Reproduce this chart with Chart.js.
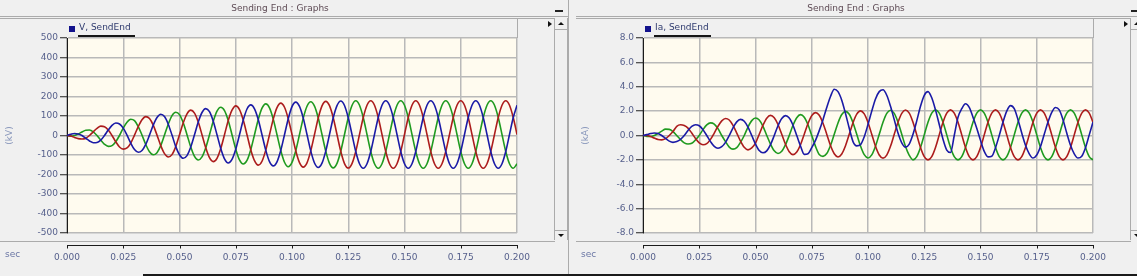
<!DOCTYPE html>
<html><head><meta charset="utf-8">
<script src="https://cdn.jsdelivr.net/npm/chart.js@4.4.1/dist/chart.umd.min.js"></script>
<style>
html,body{margin:0;padding:0;}
body{width:1137px;height:276px;overflow:hidden;background:#f0f0f0;position:relative;font-family:"DejaVu Sans",sans-serif;}
.panel{position:absolute;top:0;width:568px;height:276px;}
.a{position:absolute;}
.ln{position:absolute;background:#ababab;}
.title{left:0;top:3px;width:560px;text-align:center;font-size:9px;line-height:11px;color:#5e4b55;}
.lgsq{left:69px;top:26px;width:6px;height:6px;background:#12128c;}
.lgtx{left:79px;top:22px;font-size:9px;line-height:11px;color:#2e3a6e;white-space:nowrap;}
.lgul{left:78px;top:35px;width:57px;height:2px;background:#161616;}
.sec{left:5px;top:249px;font-size:9px;line-height:11px;color:#6a76a4;}
.tri-r{left:548px;top:21px;width:0;height:0;border-left:4px solid #111;border-top:3px solid transparent;border-bottom:3px solid transparent;}
.sb{left:554px;top:18px;width:12px;height:222px;border-left:1px solid #ababab;border-right:1px solid #ababab;background:#f0f0f0;}
.tri-u{left:558px;top:22px;width:0;height:0;border-bottom:3px solid #111;border-left:3px solid transparent;border-right:3px solid transparent;}
.tri-d{left:558px;top:234px;width:0;height:0;border-top:3px solid #111;border-left:3px solid transparent;border-right:3px solid transparent;}
canvas{position:absolute;left:0;top:0;}
</style></head>
<body>
<div class="panel" id="p1"></div>
<div class="panel" id="p2" style="left:576px"></div>
<div class="ln" style="left:568px;top:0;width:1px;height:276px;"></div>
<div class="a" style="left:143px;top:274px;width:994px;height:2px;background:#1a1a1a;"></div>
<script>
// ---- data (sampled every 1/600 s, 0 .. 0.2 s) ----
const sampleStep = 1 / 600;
const timeTicks = [0, 0.025, 0.05, 0.075, 0.1, 0.125, 0.15, 0.175, 0.2];
const voltTicks = [-500, -400, -300, -200, -100, 0, 100, 200, 300, 400, 500];
const ampTicks = [-8, -6, -4, -2, 0, 2, 4, 6, 8];

const vBlue = [
 0,6,10,8,0,-14,-28,-37,-36,-24,0,28,
 52,64,59,38,2,-39,-72,-86,-77,-46,2,53,
 92,109,97,58,2,-57,-99,-117,-103,-59,4,69,
 118,138,122,73,4,-67,-120,-141,-122,-70,4,79,
 136,157,137,82,4,-75,-134,-156,-135,-77,4,86,
 148,171,149,89,5,-79,-141,-164,-142,-80,5,91,
 153,177,154,91,5,-82,-145,-168,-145,-82,5,92,
 155,178,155,92,5,-82,-145,-168,-145,-82,5,92,
 155,178,155,92,5,-82,-145,-168,-145,-82,5,92,
 155,178,155,92,5,-82,-145,-168,-145,-82,5,92,
 155];
const vRed = [
 0,-3,-10,-16,-18,-14,0,19,36,48,45,28,
 0,-32,-59,-70,-64,-39,2,46,81,97,87,53,
 2,-52,-93,-110,-98,-57,4,65,111,130,115,69,
 4,-63,-114,-134,-117,-67,4,77,130,152,133,79,
 4,-73,-129,-152,-132,-75,4,84,143,166,145,86,
 5,-78,-139,-162,-140,-79,5,90,152,175,153,91,
 5,-81,-144,-167,-144,-82,5,92,155,178,155,92,
 5,-82,-145,-168,-145,-82,5,92,155,178,155,92,
 5,-82,-145,-168,-145,-82,5,92,155,178,155,92,
 5,-82,-145,-168,-145,-82,5,92,155,178,155,92,
 5];
const vGreen = [
 0,-3,0,8,18,27,28,19,0,-24,-45,-56,
 -52,-32,0,38,68,83,76,46,2,-46,-83,-99,
 -88,-52,2,58,102,119,107,65,4,-59,-107,-126,
 -110,-63,4,73,125,145,128,77,4,-70,-125,-146,
 -128,-73,4,82,140,162,142,84,4,-77,-137,-160,
 -138,-78,5,89,150,173,151,90,5,-80,-143,-166,
 -143,-81,5,91,154,178,155,92,5,-82,-145,-168,
 -145,-82,5,92,155,178,155,92,5,-82,-145,-168,
 -145,-82,5,92,155,178,155,92,5,-82,-145,-168,
 -145,-82,5,92,155,178,155,92,5,-82,-145,-168,
 -145];

const iBlue = [
 0,0.07,0.16,0.21,0.17,0,-0.24,-0.46,-0.56,-0.50,-0.32,0,
 0.41,0.74,0.88,0.80,0.48,0,-0.50,-0.90,-1.04,-0.92,-0.56,0,
 0.63,1.12,1.32,1.17,0.69,0,-0.70,-1.23,-1.42,-1.26,-0.75,0,
 0.80,1.39,1.63,1.43,0.84,0,-0.86,-1.55,-1.50,-1.0,-0.4,0.4,
 1.3,2.3,3.2,3.8,3.6,2.9,1.8,0.6,-0.5,-0.85,-0.75,-0.1,
 0.9,2.0,3.0,3.6,3.75,3.3,2.4,1.3,0.2,-0.6,-0.95,-0.7,
 0.1,1.2,2.4,3.3,3.6,3.1,2.1,0.9,-0.3,-1.2,-1.4,0.0,
 1.5,2.2,2.6,2.3,1.5,0.6,-0.4,-1.3,-1.75,-1.7,-1.0,0.0,
 1.1,2.0,2.45,2.2,1.3,0.2,-0.8,-1.5,-1.85,-1.6,-0.9,0.1,
 1.1,1.9,2.3,2.1,1.3,0.2,-0.8,-1.5,-1.85,-1.7,-1.0,0.05,
 1.1];
const iRed = [
 0,0,-0.08,-0.21,-0.33,-0.36,-0.26,0,0.32,0.75,0.88,0.82,
 0.61,0.2,-0.24,-0.60,-0.76,-0.67,-0.32,0.2,0.76,1.2,1.40,1.27,
 0.83,0.2,-0.46,-0.97,-1.18,-1.02,-0.62,0.1,0.85,1.42,1.65,1.46,
 0.90,0.1,-0.72,-1.33,-1.57,-1.36,-0.76,0.1,0.98,1.63,1.88,1.66,
 1.01,0.1,-0.82,-1.50,-1.76,-1.52,-0.84,0.1,1.05,1.75,2.02,1.77,
 1.07,0.1,-0.88,-1.60,-1.86,-1.61,-0.89,0.1,1.09,1.82,2.09,1.83,
 1.08,0.05,-0.98,-1.73,-2.0,-1.73,-0.98,0.05,1.08,1.83,2.1,1.83,
 1.08,0.05,-0.98,-1.73,-2.0,-1.73,-0.98,0.05,1.08,1.83,2.1,1.83,
 1.08,0.05,-0.98,-1.73,-2.0,-1.73,-0.98,0.05,1.08,1.83,2.1,1.83,
 1.08,0.05,-0.98,-1.73,-2.0,-1.73,-0.98,0.05,1.08,1.83,2.1,1.83,
 1.08];
const iGreen = [
 0,-0.07,-0.08,0,0.17,0.36,0.52,0.50,0.32,0,-0.33,-0.60,
 -0.70,-0.64,-0.36,0,0.48,0.87,1.04,0.94,0.56,0,-0.50,-0.95,
 -1.12,-1.00,-0.56,0,0.69,1.22,1.44,1.27,0.75,0,-0.70,-1.26,
 -1.48,-1.30,-0.75,0,0.84,1.46,1.71,1.50,0.88,0,-0.89,-1.56,
 -1.71,-1.48,-0.82,0.1,1.03,1.72,1.98,1.74,1.05,0.1,-0.86,-1.57,
 -1.84,-1.59,-0.88,0.1,1.08,1.81,2.07,1.81,1.09,0.1,-0.9,-1.63,
 -2.0,-1.73,-0.98,0.05,1.08,1.83,2.1,1.83,1.08,0.05,-0.98,-1.73,
 -2.0,-1.73,-0.98,0.05,1.08,1.83,2.1,1.83,1.08,0.05,-0.98,-1.73,
 -2.0,-1.73,-0.98,0.05,1.08,1.83,2.1,1.83,1.08,0.05,-0.98,-1.73,
 -2.0,-1.73,-0.98,0.05,1.08,1.83,2.1,1.83,1.08,0.05,-0.98,-1.73,
 -2.0];

// ---- drawing ----
const COL_BLUE = '#1a1aa6', COL_RED = '#ac1c1c', COL_GREEN = '#1f9a1f';
const FONT = { family: 'DejaVu Sans', size: 9 };
const TICK_COLOR = '#56608c';
const GRID_COLOR = '#b9b9b9';

function toXY(arr) { return arr.map((v, i) => ({ x: i * sampleStep, y: v })); }

const chromePlugin = {
  id: 'chrome',
  beforeDraw(chart) {
    const { ctx, chartArea: a } = chart;
    ctx.save();
    ctx.fillStyle = '#fffbef';
    ctx.fillRect(a.left, a.top, a.right - a.left, a.bottom - a.top);
    ctx.restore();
  },
  afterDraw(chart) {
    const x = chart.scales.x, ctx = chart.ctx, y0 = 245.5;
    ctx.save();
    ctx.strokeStyle = '#1a1a1a';
    ctx.lineWidth = 1;
    ctx.beginPath();
    ctx.moveTo(x.left, y0); ctx.lineTo(x.right + 1, y0);
    x.ticks.forEach(t => {
      const p = Math.round(x.getPixelForValue(t.value)) + 0.5;
      ctx.moveTo(p, y0); ctx.lineTo(p, y0 + 3);
    });
    ctx.stroke();
    ctx.restore();
  }
};

function buildPanel(host, legendText, unit, series, yTicks, fmt) {
  host.innerHTML =
    '<canvas width="568" height="276"></canvas>' +
    '<div class="ln" style="left:0;top:16px;width:568px;height:1px"></div>' +
    '<div class="a title">Sending End : Graphs</div>' +
    '<div class="a" style="left:555px;top:10px;width:8px;height:2px;background:#222"></div>' +
    '<div class="ln" style="left:0;top:18px;width:554px;height:1px"></div>' +
    '<div class="ln" style="left:517px;top:18px;width:1px;height:20px"></div>' +
    '<div class="a lgsq"></div><div class="a lgtx">' + legendText + '</div><div class="a lgul"></div>' +
    '<div class="a tri-r"></div>' +
    '<div class="a sb"></div>' +
    '<div class="ln" style="left:555px;top:29px;width:12px;height:1px"></div>' +
    '<div class="ln" style="left:555px;top:230px;width:12px;height:1px"></div>' +
    '<div class="a tri-u"></div><div class="a tri-d"></div>' +
    '<div class="ln" style="left:0;top:241px;width:555px;height:1px"></div>' +
    '<div class="a sec">sec</div>';
  const canvas = host.querySelector('canvas');
  new Chart(canvas, {
    type: 'line',
    data: {
      datasets: [
        { data: toXY(series[0]), borderColor: COL_BLUE },
        { data: toXY(series[1]), borderColor: COL_RED },
        { data: toXY(series[2]), borderColor: COL_GREEN }
      ]
    },
    options: {
      responsive: false, animation: false, devicePixelRatio: 1,
      layout: { padding: { left: 0, top: 38, right: 51, bottom: 0 } },
      elements: {
        point: { radius: 0 },
        line: { borderWidth: 1.6, cubicInterpolationMode: 'monotone', fill: false }
      },
      plugins: { legend: { display: false }, tooltip: { enabled: false } },
      scales: {
        x: {
          type: 'linear', min: 0, max: 0.2,
          afterBuildTicks: s => { s.ticks = timeTicks.map(v => ({ value: v })); },
          afterFit: s => { s.height = 43; },
          ticks: { font: FONT, color: TICK_COLOR, padding: 19, maxRotation: 0, callback: v => v.toFixed(3) },
          grid: { color: GRID_COLOR, lineWidth: 1.5, drawTicks: false },
          border: { display: false }
        },
        y: {
          min: yTicks[0], max: yTicks[yTicks.length - 1],
          afterBuildTicks: s => { s.ticks = yTicks.map(v => ({ value: v })); },
          afterFit: s => { s.width = 67; },
          ticks: { font: FONT, color: TICK_COLOR, padding: 2, callback: fmt },
          grid: { color: GRID_COLOR, lineWidth: 1.5, tickLength: 7, tickColor: '#222', tickWidth: 1 },
          border: { display: true, color: '#1a1a1a', width: 1 },
          title: { display: true, text: unit, font: FONT, color: '#8a98bc', padding: { top: 4, bottom: 0 } }
        }
      }
    },
    plugins: [chromePlugin]
  });
}

buildPanel(document.getElementById('p1'), 'V, SendEnd', '(kV)', [vBlue, vRed, vGreen], voltTicks, v => String(v));
buildPanel(document.getElementById('p2'), 'Ia, SendEnd', '(kA)', [iBlue, iRed, iGreen], ampTicks, v => v.toFixed(1));
</script>
</body></html>
